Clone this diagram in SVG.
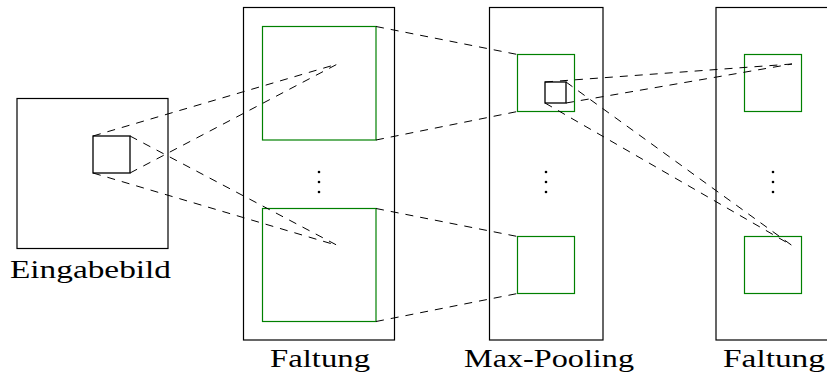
<svg xmlns="http://www.w3.org/2000/svg" width="827" height="380" viewBox="0 0 827 380">
<style>
.box{fill:none;stroke:#000;stroke-width:1.2}
.fm{fill:none;stroke:#008000;stroke-width:1.2}
.sq{fill:none;stroke:#000;stroke-width:1.3}
.dash{fill:none;stroke:#000;stroke-width:1;stroke-dasharray:8 7}
.lbl{font-family:"Liberation Serif","DejaVu Serif",serif;font-size:26px;fill:#000}
.dot{fill:#000}
</style>
<rect width="827" height="380" fill="#fff"/>
<g id="eingabebild">
<rect class="box" x="17" y="98.5" width="151" height="150"/>
<rect class="sq" x="93" y="136" width="37" height="37"/>
<text class="lbl" x="10" y="278" textLength="161" lengthAdjust="spacingAndGlyphs">Eingabebild</text>
</g>
<g id="faltung1">
<rect class="box" x="243.5" y="7.5" width="151" height="332.5"/>
<rect class="fm" x="262.5" y="26.5" width="113.5" height="113.5"/>
<rect class="fm" x="262.5" y="208.5" width="113.5" height="113"/>
<circle class="dot" cx="319" cy="172" r="1.3"/>
<circle class="dot" cx="319" cy="182" r="1.3"/>
<circle class="dot" cx="319" cy="192" r="1.3"/>
<text class="lbl" x="270" y="367" textLength="100" lengthAdjust="spacingAndGlyphs">Faltung</text>
</g>
<g id="maxpooling">
<rect class="box" x="489.5" y="7.5" width="113.5" height="332.5"/>
<rect class="fm" x="517.5" y="54.5" width="57" height="57"/>
<rect class="fm" x="517.5" y="236.5" width="57" height="57"/>
<rect class="sq" x="545" y="82" width="21" height="21"/>
<circle class="dot" cx="546" cy="172" r="1.3"/>
<circle class="dot" cx="546" cy="182" r="1.3"/>
<circle class="dot" cx="546" cy="192" r="1.3"/>
<text class="lbl" x="464" y="367" textLength="170" lengthAdjust="spacingAndGlyphs">Max-Pooling</text>
</g>
<g id="faltung2">
<rect class="box" x="716" y="7.5" width="120" height="332.5"/>
<rect class="fm" x="744.5" y="54.5" width="57" height="57"/>
<rect class="fm" x="744.5" y="236.5" width="57" height="57"/>
<circle class="dot" cx="773" cy="172" r="1.3"/>
<circle class="dot" cx="773" cy="182" r="1.3"/>
<circle class="dot" cx="773" cy="192" r="1.3"/>
<text class="lbl" x="723" y="367" textLength="102" lengthAdjust="spacingAndGlyphs">Faltung</text>
</g>
<g id="connectors">
<line class="dash" x1="93" y1="136" x2="337.5" y2="64"/>
<line class="dash" x1="130" y1="173" x2="337.5" y2="64"/>
<line class="dash" x1="130" y1="136" x2="337.5" y2="245.5"/>
<line class="dash" x1="93" y1="173" x2="337.5" y2="245.5"/>
<line class="dash" x1="376" y1="26.5" x2="517.5" y2="54.5"/>
<line class="dash" x1="376" y1="140" x2="517.5" y2="111.5"/>
<line class="dash" x1="376" y1="208.5" x2="517.5" y2="236.5"/>
<line class="dash" x1="376" y1="321.5" x2="517.5" y2="293.5"/>
<line class="dash" x1="545" y1="82" x2="792" y2="64"/>
<line class="dash" x1="566" y1="103" x2="792" y2="64"/>
<line class="dash" x1="566" y1="82" x2="792" y2="245.5"/>
<line class="dash" x1="545" y1="103" x2="792" y2="245.5"/>
</g>
</svg>
